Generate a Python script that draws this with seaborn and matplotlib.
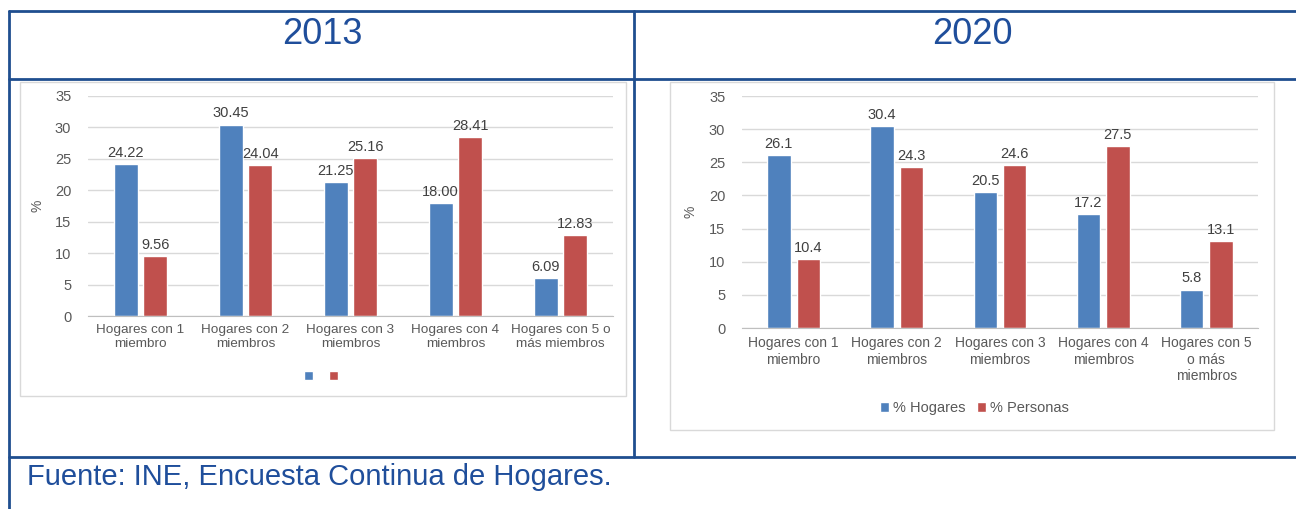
import pandas as pd
import seaborn as sns
import matplotlib.pyplot as plt
from matplotlib.lines import Line2D
from matplotlib.patches import Rectangle

# data
series = ['% Hogares', '% Personas']
categories_2013 = ['Hogares con 1\nmiembro', 'Hogares con 2\nmiembros', 'Hogares con 3\nmiembros',
                   'Hogares con 4\nmiembros', 'Hogares con 5 o\nmás miembros']
categories_2020 = ['Hogares con 1\nmiembro', 'Hogares con 2\nmiembros', 'Hogares con 3\nmiembros',
                   'Hogares con 4\nmiembros', 'Hogares con 5\no más\nmiembros']
hogares_2013 = [24.22, 30.45, 21.25, 18.00, 6.09]
personas_2013 = [9.56, 24.04, 25.16, 28.41, 12.83]
hogares_2020 = [26.1, 30.4, 20.5, 17.2, 5.8]
personas_2020 = [10.4, 24.3, 24.6, 27.5, 13.1]
y_ticks = [0, 5, 10, 15, 20, 25, 30, 35]

W, H = 1296, 509
BLUE_TXT = '#1F4E9B'
LINE = '#1F4E8F'
colors = ['#4F81BD', '#C0504D']


def px_box(x0, y0, x1, y1):
    """pixel box (top-left origin) -> figure fraction rect"""
    return [x0 / W, 1 - y1 / H, (x1 - x0) / W, (y1 - y0) / H]


def hline(fig, y, x0, x1):
    fig.add_artist(Line2D([x0 / W, x1 / W], [1 - y / H, 1 - y / H], transform=fig.transFigure,
                          color=LINE, lw=2))


def vline(fig, x, y0, y1):
    fig.add_artist(Line2D([x / W, x / W], [1 - y0 / H, 1 - y1 / H], transform=fig.transFigure,
                          color=LINE, lw=2))


def draw_chart(ax, cats, hog, per, fmt, show_labels, ylab_x, leg_xy, cat_size):
    df = pd.DataFrame({'cat': cats * 2,
                       'serie': [series[0]] * len(cats) + [series[1]] * len(cats),
                       'valor': hog + per})
    sns.barplot(data=df, x='cat', y='valor', hue='serie', order=cats, hue_order=series,
                palette=colors, width=0.57, gap=0.2, saturation=1, ax=ax)
    for cont in ax.containers:
        ax.bar_label(cont, fmt=fmt, padding=3, fontsize=10.5, color='#404040')

    ax.set_ylim(0, 35)
    ax.set_xlim(-0.5, len(cats) - 0.5)
    ax.set_yticks(y_ticks)
    ax.yaxis.grid(True, color='#D9D9D9', lw=1)
    ax.set_axisbelow(True)
    for s in ['top', 'right', 'left']:
        ax.spines[s].set_visible(False)
    ax.spines['bottom'].set_color('#BFBFBF')
    ax.tick_params(axis='both', length=0, colors='#595959')
    ax.tick_params(axis='y', labelsize=10.5, pad=12)
    ax.tick_params(axis='x', labelsize=cat_size, pad=6)
    ax.set_xlabel('')
    ax.set_ylabel('%', color='#595959', fontsize=10)
    ax.yaxis.set_label_coords(ylab_x, 0.5)
    ax.set_facecolor('none')

    handles, labels = ax.get_legend_handles_labels()
    if not show_labels:
        labels = ['', '']
    ax.legend(handles, labels, loc='center', bbox_to_anchor=leg_xy, ncol=2, frameon=False,
              handlelength=0.6, handleheight=0.6, handletextpad=0.3, columnspacing=0.8,
              fontsize=10.5, labelcolor='#595959')


sns.set_style('white')
plt.rcParams['font.family'] = ['Liberation Sans', 'DejaVu Sans']

fig = plt.figure(figsize=(W / 100, H / 100), dpi=100)

# chart frames
for x0, y0, x1, y1 in [(20, 82, 626, 396), (670, 82, 1274, 430)]:
    fig.add_artist(Rectangle((x0 / W, 1 - y1 / H), (x1 - x0) / W, (y1 - y0) / H,
                             transform=fig.transFigure, fill=False, edgecolor='#D9D9D9', lw=1))

ax1 = fig.add_axes(px_box(88, 96, 613, 316))
ax2 = fig.add_axes(px_box(742, 96, 1258, 328))
draw_chart(ax1, categories_2013, hogares_2013, personas_2013, '%.2f', False, -0.082, (0.448, -0.277), 9.7)
draw_chart(ax2, categories_2020, hogares_2020, personas_2020, '%.1f', True, -0.087, (0.451, -0.345), 10)

# table lines
hline(fig, 11, 9, W)
hline(fig, 79, 9, W)
hline(fig, 457, 9, W)
vline(fig, 9, 11, H)
vline(fig, 634, 11, 457)

fig.text(322 / W, 1 - 35 / H, '2013', ha='center', va='center', fontsize=26, color=BLUE_TXT)
fig.text(972 / W, 1 - 35 / H, '2020', ha='center', va='center', fontsize=26, color=BLUE_TXT)
fig.text(27 / W, 1 - 477 / H, 'Fuente: INE, Encuesta Continua de Hogares.', ha='left', va='center',
         fontsize=21, color=BLUE_TXT)

fig.savefig('out.png', dpi=100)
